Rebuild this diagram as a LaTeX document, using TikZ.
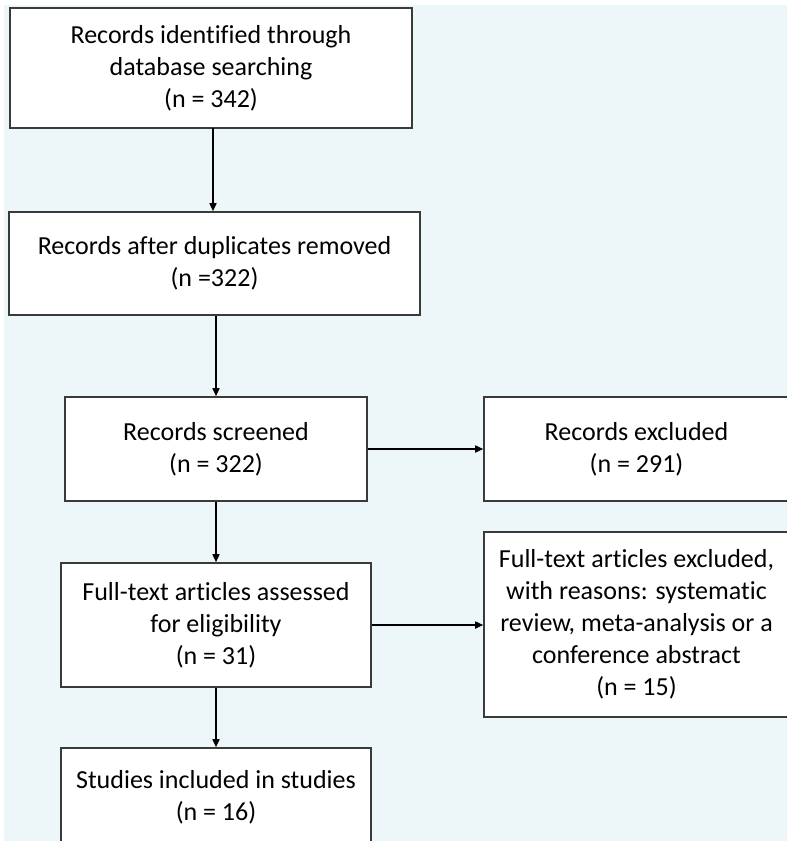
\documentclass[tikz,border=0pt]{standalone}
\usepackage{fontspec}
\setmainfont{Carlito}[Ligatures=NoCommon]
\usepackage{tikz}
\usetikzlibrary{arrows.meta,positioning,calc}
\definecolor{paleblue}{HTML}{EDF6F8}
\definecolor{boxline}{HTML}{3A3A3A}
\tikzset{
  >={Triangle[length=8pt,width=7pt]},
  % boxes
  pb/.style={draw=boxline,fill=white,line width=1.6pt,inner sep=0pt,
             align=center,font=\fontsize{26}{32}\selectfont},
  pa/.style={->,draw=black,line width=1.6pt},
}
\begin{document}
\begin{tikzpicture}[x=1pt,y=-1pt]
  \useasboundingbox (0,0) rectangle (787,841);
  \clip (0,0) rectangle (787,841);
  \fill[white] (0,0) rectangle (787,841);
  \fill[paleblue] (4,5) rectangle (787,841);
  \node[pb,minimum width=402pt,minimum height=120pt] (ident) at (211,68)
    {Records identified through\\database searching\\(n = 342)};
  \node[pb,minimum width=411pt,minimum height=103pt] (dupl) at (214.5,263.5)
    {Records after duplicates removed\\(n =322)};
  \node[pb,minimum width=302pt,minimum height=104pt] (scr) at (216,449)
    {Records screened\\(n = 322)};
  \node[pb,minimum width=305pt,minimum height=104pt] (excl) at (636.5,449)
    {Records excluded\\(n = 291)};
  \node[pb,minimum width=310pt,minimum height=124pt] (full) at (216,625)
    {Full-text articles assessed\\for eligibility\\(n = 31)};
  \node[pb,minimum width=305pt,minimum height=185pt] (ftexcl) at (636.5,624.5)
    {Full-text articles excluded,\\with reasons: systematic\\review, meta-analysis or a\\conference abstract\\(n = 15)};
  \node[pb,minimum width=310pt,minimum height=98pt] (incl) at (216,797)
    {Studies included in studies\\(n = 16)};
  \coordinate (top) at (213,128);
  \draw[pa] (top) -- (top |- dupl.north);
  \draw[pa] (scr.north |- dupl.south) -- (scr.north);
  \draw[pa] (scr.south) -- (full.north);
  \draw[pa] (full.south) -- (incl.north);
  \draw[pa] (scr.east) -- (excl.west);
  \draw[pa] (full.east) -- (full.east -| ftexcl.west);
\end{tikzpicture}
\end{document}
